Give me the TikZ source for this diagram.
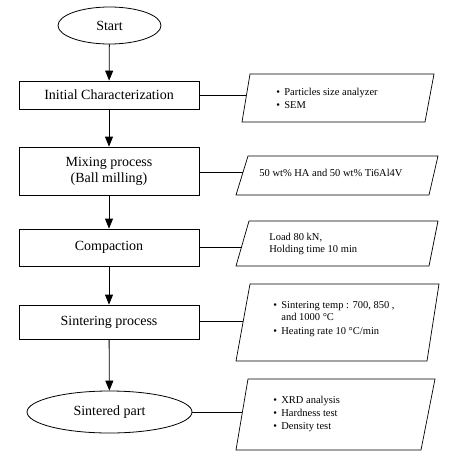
\documentclass[tikz,border=0pt]{standalone}
\usepackage{fontspec}
\setmainfont{Liberation Serif}
\usetikzlibrary{shapes.geometric,arrows.meta}
\begin{document}
\begin{tikzpicture}[x=1pt,y=-1pt,
  line width=0.8pt,
  procbox/.style={draw,rectangle,minimum width=180pt,inner sep=0pt,font=\fontsize{14}{16}\selectfont,align=center},
  termnode/.style={draw,ellipse,inner sep=0pt,font=\fontsize{14}{16}\selectfont},
  flow/.style={-{Triangle[width=8pt,length=10pt]}},
  link/.style={line width=0.7pt},
  para/.style={line width=0.7pt},
  info/.style={inner sep=0pt,anchor=west,font=\fontsize{10.5}{13}\selectfont,align=left}
]
\useasboundingbox (0,0) rectangle (474,458);

% main column
\node[termnode,minimum width=103pt,minimum height=37pt] (start) at (109.5,25.5) {Start};
\node[procbox,minimum height=28pt] (init) at (109,95) {Initial Characterization};
\node[procbox,minimum height=48pt] (mix) at (109,171) {Mixing process\\(Ball milling)};
\node[procbox,minimum height=37pt] (comp) at (109,247.5) {Compaction};
\node[procbox,minimum height=34pt] (sint) at (109,322) {Sintering process};
\node[termnode,minimum width=165pt,minimum height=42pt] (part) at (109.5,412) {Sintered part};

\draw[flow] (start) -- (init);
\draw[flow] (init) -- (mix);
\draw[flow] (mix) -- (comp);
\draw[flow] (comp) -- (sint);
\draw[flow] (sint) -- (part);

% parallelograms
\draw[para] (250,74) -- (434,74) -- (425,122) -- (242,122) -- cycle;
\draw[para] (248,156) -- (438,156) -- (429,195) -- (236,195) -- cycle;
\draw[para] (249,221) -- (438,221) -- (429,266) -- (236,266) -- cycle;
\draw[para] (250,284) -- (439,284) -- (427,361) -- (236,361) -- cycle;
\draw[para] (248,379) -- (435,379) -- (421,450) -- (236,450) -- cycle;

\coordinate (p1) at (246,95);
\coordinate (p2) at (243,172);
\coordinate (p3) at (241.5,247.5);
\coordinate (p4) at (243.3,321);
\coordinate (p5) at (242.4,412);

\draw[link] (init.east) -- (p1);
\draw[link] (mix.east |- p2) -- (p2);
\draw[link] (comp.east) -- (p3);
\draw[link] (sint.east |- p4) -- (p4);
\draw[link] (part.east) -- (p5);

% texts
\node[info] (t1) at (276,99.5) {\begin{tabular}{@{}l@{\hspace{4.3pt}}l@{}}•&Particles size analyzer\\•&SEM\end{tabular}};
\node[info] (t2) at (259,172.5) {50 wt\% HA and 50 wt\% Ti6Al4V};
\node[info,font=\fontsize{10.5}{12}\selectfont] (t3) at (269,243.5) {Load 80 kN,\\Holding time 10 min};
\node[info] (t4) at (273,319) {\fontsize{10.5}{12}\selectfont\begin{tabular}{@{}l@{\hspace{4.3pt}}l@{}}•&Sintering temp : 700, 850 ,\\&and 1000 °C\\[2pt]•&Heating rate 10 °C/min\end{tabular}};
\node[info] (t5) at (273,414) {\begin{tabular}{@{}l@{\hspace{4.3pt}}l@{}}•&XRD analysis\\•&Hardness test\\•&Density test\end{tabular}};
\end{tikzpicture}
\end{document}
